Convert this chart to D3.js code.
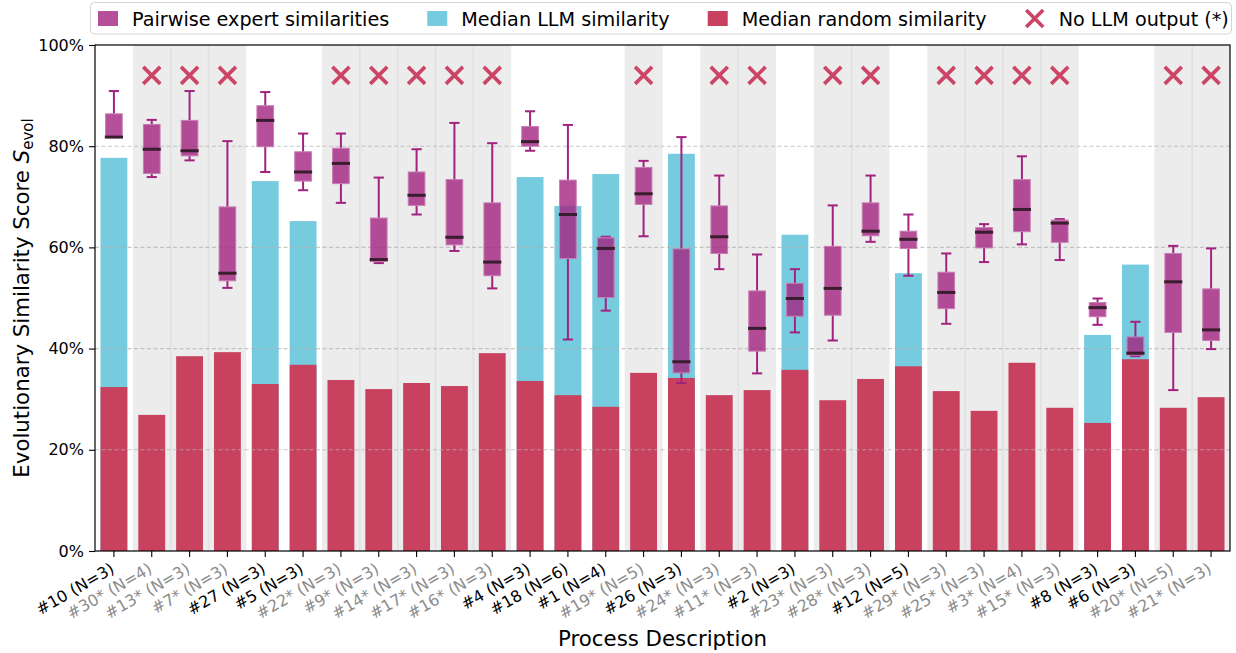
<!DOCTYPE html>
<html>
<head>
<meta charset="utf-8">
<script src="https://cdn.jsdelivr.net/npm/d3@7"></script>
<style>
  html, body { margin: 0; padding: 0; background: #fff; }
  svg { display: block; font-family: "DejaVu Sans", sans-serif; }
</style>
</head>
<body>
<svg id="chart" width="1236" height="653"></svg>
<script>
// Process descriptions; "*" marks descriptions without any LLM output
const categories = [
  "#10 (N=3)", "#30* (N=4)", "#13* (N=3)", "#7* (N=3)", "#27 (N=3)", "#5 (N=3)",
  "#22* (N=3)", "#9* (N=3)", "#14* (N=3)", "#17* (N=3)", "#16* (N=3)", "#4 (N=3)",
  "#18 (N=6)", "#1 (N=4)", "#19* (N=5)", "#26 (N=3)", "#24* (N=3)", "#11* (N=3)",
  "#2 (N=3)", "#23* (N=3)", "#28* (N=3)", "#12 (N=5)", "#29* (N=3)", "#25* (N=3)",
  "#3* (N=4)", "#15* (N=3)", "#8 (N=3)", "#6 (N=3)", "#20* (N=5)", "#21* (N=3)"
];

// Median similarity of random models (%)
const randomMedian = [
  32.4, 26.9, 38.5, 39.3, 33.0, 36.8, 33.8, 32.0, 33.2, 32.6, 39.1, 33.6,
  30.8, 28.5, 35.2, 34.2, 30.8, 31.8, 35.8, 29.8, 34.0, 36.5, 31.6, 27.7,
  37.2, 28.3, 25.3, 37.9, 28.3, 30.4
];

// Median similarity of LLM-generated models (%), null where no output exists
const llmMedian = [
  77.7, null, null, null, 73.1, 65.2, null, null, null, null, null, 73.9,
  68.2, 74.5, null, 78.5, null, null, 62.5, null, null, 54.9, null, null,
  null, null, 42.7, 56.6, null, null
];

// Pairwise expert similarities: five-number summaries (%)
const expertLow = [
  81.8, 73.9, 77.2, 52.0, 74.9, 71.3, 68.8, 56.9, 66.5, 59.3, 51.9, 79.1,
  41.8, 47.5, 62.2, 33.2, 55.7, 35.1, 43.2, 41.6, 61.1, 54.4, 44.9, 57.1,
  60.6, 57.5, 44.7, 38.5, 31.8, 39.9
];
const expertQ1 = [
  81.8, 74.6, 78.1, 53.4, 79.9, 73.1, 72.6, 57.2, 68.3, 60.5, 54.4, 80.0,
  57.8, 50.1, 68.5, 35.2, 58.8, 39.5, 46.4, 46.6, 62.3, 59.8, 47.9, 59.9,
  63.1, 61.0, 46.3, 38.7, 43.2, 41.6
];
const expertMedian = [
  81.8, 79.4, 79.1, 54.9, 85.1, 74.9, 76.6, 57.6, 70.3, 62.0, 57.1, 80.9,
  66.5, 59.8, 70.6, 37.4, 62.1, 44.0, 49.9, 51.9, 63.2, 61.6, 51.1, 63.0,
  67.5, 64.8, 48.1, 39.1, 53.2, 43.7
];
const expertQ3 = [
  86.4, 84.3, 85.1, 68.0, 88.0, 78.9, 79.6, 65.8, 74.9, 73.4, 68.8, 83.9,
  73.3, 61.9, 75.8, 59.7, 68.2, 51.4, 52.9, 60.2, 68.8, 63.2, 55.1, 63.9,
  73.4, 65.4, 49.1, 42.3, 58.8, 51.8
];
const expertHigh = [
  90.9, 85.2, 90.9, 81.0, 90.7, 82.5, 82.5, 73.8, 79.4, 84.6, 80.6, 86.9,
  84.2, 62.1, 77.1, 81.8, 74.2, 58.6, 55.7, 68.3, 74.2, 66.5, 58.8, 64.6,
  78.0, 65.6, 49.9, 45.3, 60.3, 59.8
];

// Level at which the "no LLM output" cross is drawn (%)
const noOutputMarkerLevel = 94;

const yTicks = [0, 20, 40, 60, 80, 100];
const legendLabels = ["Pairwise expert similarities", "Median LLM similarity",
                      "Median random similarity", "No LLM output (*)"];

// ---- styling ----
const C_EXPERT = "#a2237f";
const C_LLM = "#77cbdf";
const C_RANDOM = "#c8425f";
const C_CROSS = "#cc4466";
const C_MEDIAN = "#3a1d2e";

const rows = categories.map((name, i) => ({
  name, i,
  missing: name.includes("*"),
  random: randomMedian[i],
  llm: llmMedian[i],
  lo: expertLow[i], q1: expertQ1[i], med: expertMedian[i], q3: expertQ3[i], hi: expertHigh[i]
}));

const svg = d3.select("#chart");
const M = { left: 95, right: 1230, top: 45, bottom: 551 };

const x = d3.scaleBand().domain(categories).range([M.left, M.right]).padding(0);
const y = d3.scaleLinear().domain([0, 100]).range([M.bottom, M.top]);
const bw = x.bandwidth();

// shaded columns for descriptions without LLM output
const shade = svg.append("g");
shade.selectAll("rect").data(rows.filter(d => d.missing)).join("rect")
  .attr("x", d => x(d.name)).attr("width", bw)
  .attr("y", M.top).attr("height", M.bottom - M.top)
  .attr("fill", "#ececec");
shade.selectAll("line").data(rows.filter(d => d.missing && d.i + 1 < rows.length && rows[d.i + 1].missing)).join("line")
  .attr("x1", d => x(d.name) + bw).attr("x2", d => x(d.name) + bw)
  .attr("y1", M.top).attr("y2", M.bottom)
  .attr("stroke", "#e0e0e0").attr("stroke-width", 1.5);

const barW = bw * 0.71;

// LLM median bars
svg.append("g").selectAll("rect").data(rows.filter(d => d.llm != null)).join("rect")
  .attr("x", d => x(d.name) + (bw - barW) / 2).attr("width", barW)
  .attr("y", d => y(d.llm)).attr("height", d => y(0) - y(d.llm))
  .attr("fill", C_LLM);

// random median bars
svg.append("g").selectAll("rect").data(rows).join("rect")
  .attr("x", d => x(d.name) + (bw - barW) / 2).attr("width", barW)
  .attr("y", d => y(d.random)).attr("height", d => y(0) - y(d.random))
  .attr("fill", C_RANDOM);

// horizontal grid
svg.append("g").selectAll("line").data(yTicks.filter(t => t > 0 && t < 100)).join("line")
  .attr("x1", M.left).attr("x2", M.right)
  .attr("y1", d => y(d)).attr("y2", d => y(d))
  .attr("stroke", "#b0b0b0").attr("stroke-opacity", 0.7)
  .attr("stroke-width", 1.1).attr("stroke-dasharray", "4,2.5");

// expert box plots
const boxW = bw * 0.44, capW = bw * 0.27, medW = bw * 0.48;
const box = svg.append("g").selectAll("g").data(rows).join("g")
  .attr("transform", d => `translate(${x(d.name) + bw / 2},0)`);
box.append("line").attr("y1", d => y(d.lo)).attr("y2", d => y(d.q1))
  .attr("stroke", C_EXPERT).attr("stroke-width", 2);
box.append("line").attr("y1", d => y(d.q3)).attr("y2", d => y(d.hi))
  .attr("stroke", C_EXPERT).attr("stroke-width", 2);
box.append("line").attr("x1", -capW / 2).attr("x2", capW / 2)
  .attr("y1", d => y(d.lo)).attr("y2", d => y(d.lo))
  .attr("stroke", C_EXPERT).attr("stroke-width", 2);
box.append("line").attr("x1", -capW / 2).attr("x2", capW / 2)
  .attr("y1", d => y(d.hi)).attr("y2", d => y(d.hi))
  .attr("stroke", C_EXPERT).attr("stroke-width", 2);
box.append("rect")
  .attr("x", -boxW / 2).attr("width", boxW)
  .attr("y", d => y(d.q3)).attr("height", d => Math.max(0.5, y(d.q1) - y(d.q3)))
  .attr("fill", C_EXPERT).attr("fill-opacity", 0.8)
  .attr("stroke", "#c77db2").attr("stroke-width", 1);
box.append("line").attr("x1", -medW / 2).attr("x2", medW / 2)
  .attr("y1", d => y(d.med)).attr("y2", d => y(d.med))
  .attr("stroke", C_MEDIAN).attr("stroke-width", 3);

// crosses for missing LLM output
const crossPath = s => `M${-s},${-s}L${s},${s}M${-s},${s}L${s},${-s}`;
svg.append("g").selectAll("path").data(rows.filter(d => d.missing)).join("path")
  .attr("transform", d => `translate(${x(d.name) + bw / 2},${y(noOutputMarkerLevel)})`)
  .attr("d", crossPath(8.5))
  .attr("stroke", C_CROSS).attr("stroke-width", 3.6).attr("fill", "none");

// axes
const xAxis = svg.append("g").attr("transform", `translate(0,${M.bottom})`)
  .call(d3.axisBottom(x).tickSize(6).tickSizeOuter(0));
xAxis.select(".domain").remove();
xAxis.selectAll(".tick line").attr("stroke", "#000").attr("stroke-width", 1.1);
xAxis.selectAll(".tick text")
  .attr("font-size", 16).attr("font-family", "DejaVu Sans")
  .attr("text-anchor", "end").attr("x", 0).attr("y", 0).attr("dy", 0)
  .attr("transform", "translate(1.5,21) rotate(-30)")
  .attr("fill", d => d.includes("*") ? "#8c8c8c" : "#000");

const yAxis = svg.append("g").attr("transform", `translate(${M.left},0)`)
  .call(d3.axisLeft(y).tickValues(yTicks).tickFormat(d => d + "%").tickSize(6).tickPadding(5).tickSizeOuter(0));
yAxis.select(".domain").remove();
yAxis.selectAll(".tick line").attr("stroke", "#000").attr("stroke-width", 1.1);
yAxis.selectAll(".tick text").attr("font-size", 16).attr("font-family", "DejaVu Sans").attr("fill", "#000");

// frame
svg.append("rect").attr("x", M.left).attr("y", M.top)
  .attr("width", M.right - M.left).attr("height", M.bottom - M.top)
  .attr("fill", "none").attr("stroke", "#000").attr("stroke-width", 1.2);

// axis titles
svg.append("text").attr("x", (M.left + M.right) / 2).attr("y", 646)
  .attr("text-anchor", "middle").attr("font-size", 21.3).text("Process Description");
const yt = svg.append("text").attr("transform", `translate(29,${(M.top + M.bottom) / 2}) rotate(-90)`)
  .attr("text-anchor", "middle").attr("font-size", 21.3);
yt.append("tspan").text("Evolutionary Similarity Score ");
yt.append("tspan").attr("font-style", "italic").text("S");
yt.append("tspan").attr("font-size", 15).attr("dy", 4).text("evol");

// legend
const lg = svg.append("g");
lg.append("rect").attr("x", 90.5).attr("y", 2.5).attr("width", 1141).attr("height", 31.5)
  .attr("rx", 4).attr("fill", "#fff").attr("fill-opacity", 0.85)
  .attr("stroke", "#d3d3d3").attr("stroke-width", 1);
const swatchColors = [C_EXPERT, C_LLM, C_RANDOM, null];
let lx = 98;
legendLabels.forEach((label, k) => {
  if (swatchColors[k]) {
    lg.append("rect").attr("x", lx).attr("y", 11).attr("width", 20).attr("height", 15)
      .attr("fill", swatchColors[k]).attr("fill-opacity", k === 0 ? 0.8 : 1);
  } else {
    lg.append("path").attr("transform", `translate(${lx + 10},18.5)`)
      .attr("d", crossPath(8.5)).attr("stroke", C_CROSS).attr("stroke-width", 3.6).attr("fill", "none");
  }
  const t = lg.append("text").attr("x", lx + 34).attr("y", 25.5)
    .attr("font-size", 19.2).attr("fill", "#000").text(label);
  lx += 34 + t.node().getComputedTextLength() + 38;
});
</script>
</body>
</html>
